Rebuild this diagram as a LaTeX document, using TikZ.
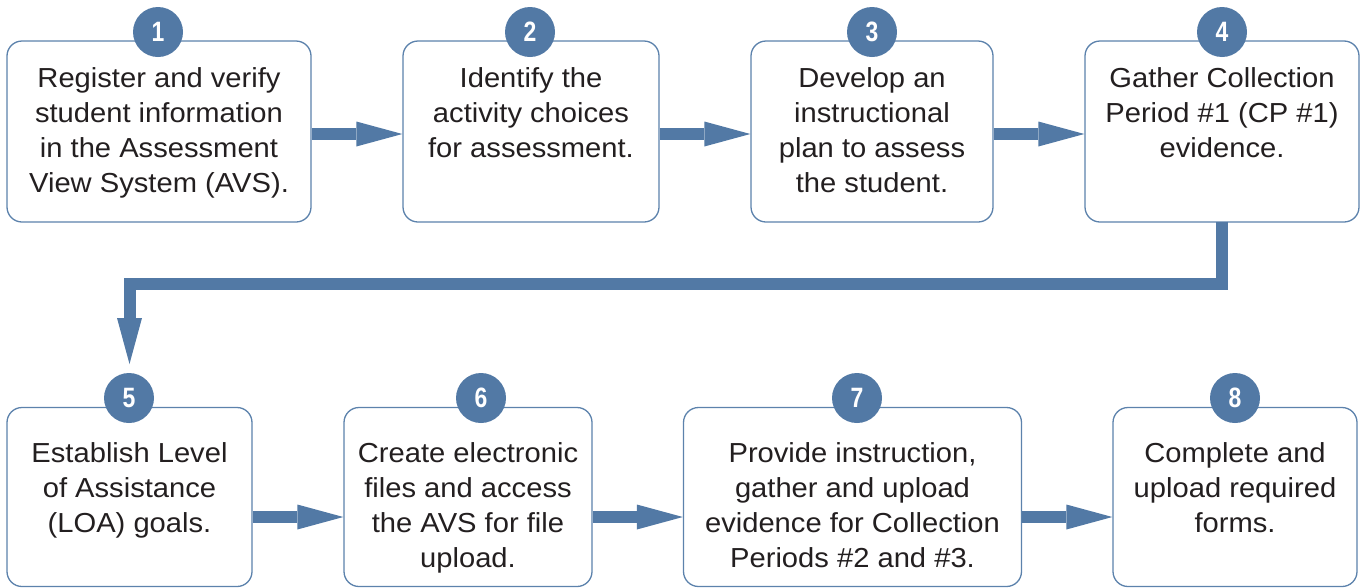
\documentclass[tikz,border=0pt]{standalone}
\usepackage{fontspec}
\setmainfont{Liberation Sans}[FakeStretch=1.06]
\newfontfamily\numfont{Liberation Sans}[FakeStretch=0.82]
\usetikzlibrary{arrows.meta,positioning}
\definecolor{stepblue}{RGB}{82,121,165}
\definecolor{boxline}{RGB}{92,130,172}
\definecolor{txtgray}{RGB}{35,31,32}
\tikzset{
  stepbox/.style={draw=boxline, line width=1.3pt, rounded corners=15pt, fill=white, inner sep=0pt},
  steptext/.style={inner sep=0pt, align=center, text=txtgray, font=\fontsize{27.5}{35}\selectfont},
  stepnum/.style={circle, fill=stepblue, inner sep=0pt, minimum size=50pt, text=white,
    font=\numfont\fontsize{28}{28}\selectfont\bfseries},
  flow/.style={draw=stepblue, line width=12pt, line join=miter,
    -{Triangle[length=46pt, width=25pt, line width=0pt]}},
}
\begin{document}
\begin{tikzpicture}[x=1pt, y=-1pt]
\useasboundingbox (0,0) rectangle (1364,587);
% top row boxes
\node[stepbox, minimum width=304pt, minimum height=181pt] (b1) at (159,131.5) {};
\node[stepbox, minimum width=256pt, minimum height=181pt] (b2) at (531,131.5) {};
\node[stepbox, minimum width=242pt, minimum height=181pt] (b3) at (872,131.5) {};
\node[stepbox, minimum width=274pt, minimum height=181pt] (b4) at (1222,131.5) {};
% bottom row boxes
\node[stepbox, minimum width=245pt, minimum height=179pt] (b5) at (129.5,497) {};
\node[stepbox, minimum width=248pt, minimum height=179pt] (b6) at (468,497) {};
\node[stepbox, minimum width=338pt, minimum height=179pt] (b7) at (852.5,497) {};
\node[stepbox, minimum width=244pt, minimum height=179pt] (b8) at (1235,497) {};
% texts
\node[steptext, below=27pt of b1.north] (t1) {Register and verify\\student information\\in the Assessment\\View System (AVS).};
\node[steptext, below=27pt of b2.north] (t2) {Identify the\\activity choices\\for assessment.};
\node[steptext, below=27pt of b3.north] (t3) {Develop an\\instructional\\plan to assess\\the student.};
\node[steptext, below=27pt of b4.north] (t4) {Gather Collection\\Period \#1 (CP \#1)\\evidence.};
\node[steptext, below=36pt of b5.north] (t5) {Establish Level\\of Assistance\\(LOA) goals.};
\node[steptext, below=36pt of b6.north] (t6) {Create electronic\\files and access\\the AVS for file\\upload.};
\node[steptext, below=36pt of b7.north] (t7) {Provide instruction,\\gather and upload\\evidence for Collection\\Periods \#2 and \#3.};
\node[steptext, below=36pt of b8.north] (t8) {Complete and\\upload required\\forms.};
% number circles
\node[stepnum] (c1) at (158,32) {1};
\node[stepnum] (c2) at (530,32) {2};
\node[stepnum] (c3) at (872,32) {3};
\node[stepnum] (c4) at (1222,32) {4};
\node[stepnum] (c5) at (129,398) {5};
\node[stepnum] (c6) at (481,398) {6};
\node[stepnum] (c7) at (857,398) {7};
\node[stepnum] (c8) at (1235,398) {8};
% connectors
\draw[flow] (b1.east |- 0,134) -- (b2.west |- 0,134);
\draw[flow] (b2.east |- 0,134) -- (b3.west |- 0,134);
\draw[flow] (b3.east |- 0,134) -- (b4.west |- 0,134);
\coordinate (e5) at (129.5,364);
\draw[flow] ([yshift=1pt]b4.south) -- ++(0,62) -| (e5);
\draw[flow] (b5.east |- 0,517) -- (b6.west |- 0,517);
\draw[flow] (b6.east |- 0,517) -- (b7.west |- 0,517);
\draw[flow] (b7.east |- 0,517) -- (b8.west |- 0,517);
\end{tikzpicture}
\end{document}
